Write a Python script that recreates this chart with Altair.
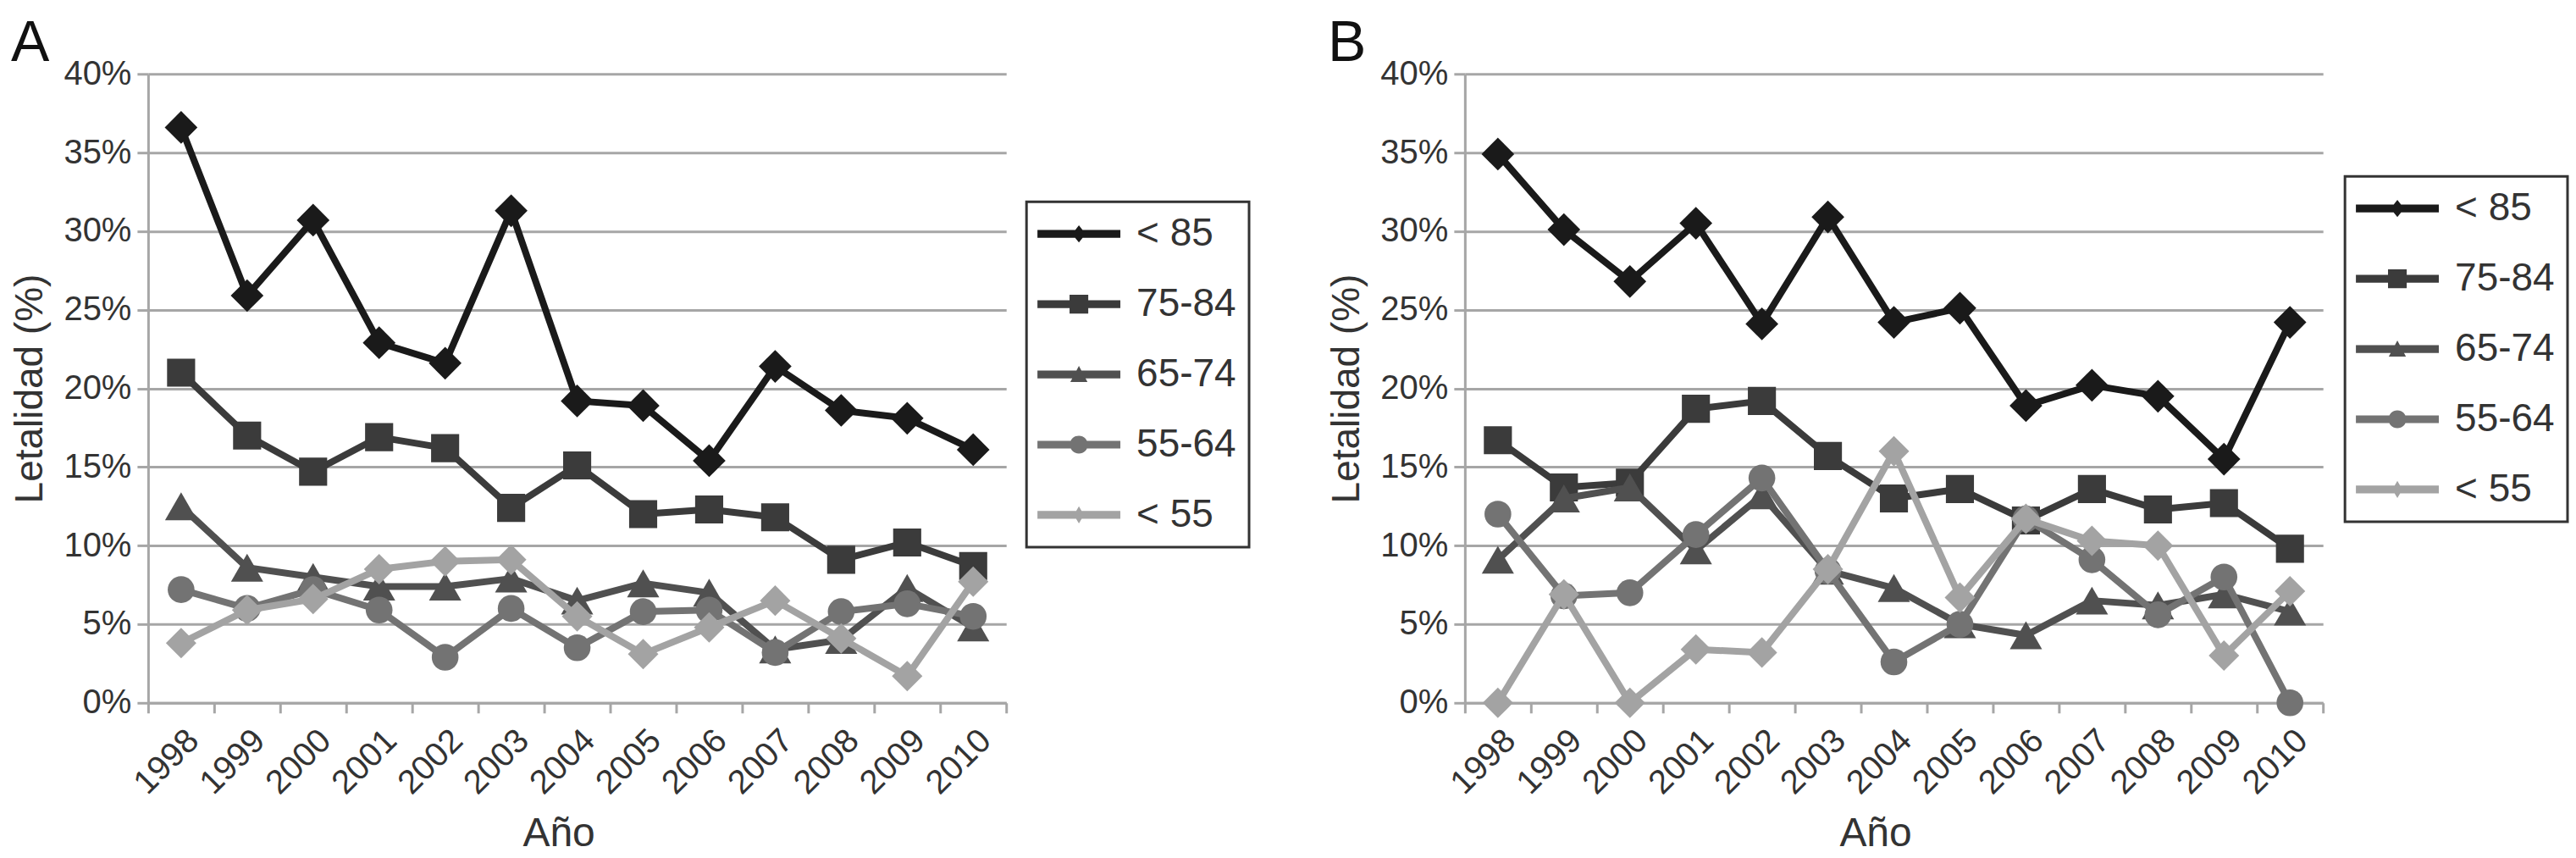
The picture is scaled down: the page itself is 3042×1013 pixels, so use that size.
import altair as alt
import pandas as pd

FONT = "Liberation Sans"

years = ["1998", "1999", "2000", "2001", "2002", "2003", "2004",
         "2005", "2006", "2007", "2008", "2009", "2010"]
series = ["< 85", "75-84", "65-74", "55-64", "< 55"]

# Panel A values (%)
a_lt85 = [36.6, 25.9, 30.7, 22.9, 21.6, 31.3, 19.2, 18.9, 15.4, 21.4, 18.6, 18.1, 16.1]
a_7584 = [21.0, 17.0, 14.7, 16.9, 16.2, 12.4, 15.1, 12.0, 12.3, 11.8, 9.1, 10.2, 8.7]
a_6574 = [12.5, 8.6, 8.0, 7.4, 7.4, 7.9, 6.5, 7.6, 7.0, 3.4, 4.0, 7.3, 4.8]
a_5564 = [7.2, 6.0, 7.2, 5.9, 2.9, 6.0, 3.5, 5.8, 5.9, 3.2, 5.8, 6.3, 5.5]
a_lt55 = [3.8, 5.9, 6.6, 8.5, 9.0, 9.1, 5.5, 3.1, 4.8, 6.5, 4.1, 1.7, 7.7]

# Panel B values (%)
b_lt85 = [34.9, 30.1, 26.8, 30.5, 24.1, 30.9, 24.2, 25.1, 18.9, 20.2, 19.5, 15.5, 24.2]
b_7584 = [16.7, 13.7, 14.0, 18.7, 19.2, 15.7, 13.0, 13.6, 11.6, 13.6, 12.3, 12.7, 9.8]
b_6574 = [9.1, 13.0, 13.7, 9.7, 13.2, 8.4, 7.3, 5.0, 4.3, 6.5, 6.2, 6.9, 5.8]
b_5564 = [12.0, 6.8, 7.0, 10.7, 14.3, 8.4, 2.6, 5.0, 11.7, 9.1, 5.6, 8.0, 0.0]
b_lt55 = [0.0, 6.9, 0.0, 3.4, 3.2, 8.5, 16.0, 6.7, 11.7, 10.3, 10.0, 3.0, 7.1]

# styling
colors = ["#1a1a1a", "#3b3b3b", "#505050", "#737373", "#a3a3a3"]
shapes = ["diamond", "square", "triangle-up", "circle", "diamond"]
sizes = [1500, 1100, 1450, 1000, 1300]

# legend symbols: a line sample with the marker in its middle (unit = 23 px)
LINE = "M-1.09,-0.2L3.17,-0.2L3.17,0.2L-1.09,0.2Z"
legend_paths = [
    LINE + "M1.04,-0.44L1.39,0L1.04,0.44L0.69,0Z",
    LINE + "M0.56,-0.48L1.52,-0.48L1.52,0.48L0.56,0.48Z",
    LINE + "M1.04,-0.44L1.48,0.39L0.6,0.39Z",
    LINE + "M0.58,0A0.46,0.46 0 0,1 1.5,0A0.46,0.46 0 0,1 0.58,0Z",
    LINE + "M1.04,-0.44L1.3,0L1.04,0.44L0.78,0Z",
]


def make_df(cols):
    rows = []
    for s, vals in zip(series, cols):
        for yr, v in zip(years, vals):
            rows.append({"year": yr, "series": s, "value": v})
    return pd.DataFrame(rows)


df_a = make_df([a_lt85, a_7584, a_6574, a_5564, a_lt55])
df_b = make_df([b_lt85, b_7584, b_6574, b_5564, b_lt55])

GRID = "#a6a6a6"
TXT = "#333333"


def panel(df, letter, lx, ly):
    x = alt.X(
        "year:O",
        scale=alt.Scale(type="band", paddingInner=0, paddingOuter=0),
        axis=alt.Axis(
            title="Año", labelAngle=-45, tickBand="extent", tickSize=12,
            tickWidth=3, tickColor=GRID, domainColor=GRID, domainWidth=3,
            labelFontSize=40, labelFont=FONT, labelColor=TXT, labelPadding=12,
            titleFontSize=48, titleFont=FONT, titleFontWeight="normal",
            titleColor=TXT, titlePadding=16, titleX=485, titleAlign="center",
            grid=False,
        ),
    )
    y = alt.Y(
        "value:Q",
        scale=alt.Scale(domain=[0, 40], nice=False),
        axis=alt.Axis(
            values=[0, 5, 10, 15, 20, 25, 30, 35, 40],
            labelExpr="datum.value + '%'",
            title="Letalidad (%)", grid=True, gridColor=GRID, gridWidth=3,
            domainColor=GRID, domainWidth=3, tickColor=GRID, tickWidth=3,
            tickSize=13, labelFontSize=40, labelFont=FONT, labelColor=TXT,
            labelPadding=7, titleFontSize=46, titleFont=FONT,
            titleFontWeight="normal", titleColor=TXT, titlePadding=15,
        ),
    )
    stroke_enc = alt.Stroke(
        "series:N", scale=alt.Scale(domain=series, range=colors), legend=None
    )
    fill_enc = alt.Fill(
        "series:N", scale=alt.Scale(domain=series, range=colors), legend=None
    )
    leg = alt.Legend(
        title=None, orient="none", legendX=lx, legendY=ly,
        symbolSize=2116, symbolOpacity=1, symbolStrokeWidth=0,
        labelFontSize=46, labelFont=FONT, labelColor=TXT, labelOffset=69,
        rowPadding=37, padding=15, strokeColor="#333333", fillColor="white",
    )
    legend_layer = (
        alt.Chart(df)
        .transform_filter("datum.value < -100")
        .mark_point(filled=True)
        .encode(
            x=x, y=y,
            color=alt.Color("series:N", scale=alt.Scale(domain=series, range=colors), legend=leg),
            shape=alt.Shape("series:N", scale=alt.Scale(domain=series, range=legend_paths), legend=leg),
        )
    )
    layers = [legend_layer]
    for s, sh, sz in zip(series, shapes, sizes):
        base = alt.Chart(df).transform_filter(alt.datum.series == s)
        layers.append(
            base.mark_line(strokeWidth=8, strokeJoin="round", strokeCap="round")
            .encode(x=x, y=y, stroke=stroke_enc)
        )
        layers.append(
            base.mark_point(filled=True, shape=sh, size=sz, opacity=1, strokeWidth=0)
            .encode(x=x, y=y, fill=fill_enc)
        )
    return alt.layer(*layers).properties(
        width=1014, height=743,
        title=alt.TitleParams(
            text=letter, anchor="start", fontSize=68, font=FONT,
            fontWeight="normal", color="#111111", offset=-19, frame="bounds",
        ),
    )


chart_a = panel(df_a, "A", 1038, 151)
chart_b = panel(df_b, "B", 1040, 121)

chart = (
    alt.hconcat(chart_a, chart_b, spacing=90)
    .resolve_scale(color="independent", shape="independent",
                   stroke="independent", fill="independent")
    .resolve_legend(color="independent", shape="independent")
    .configure_view(stroke=None)
    .configure_legend(strokeWidth=3)
    .properties(padding={"left": 4, "top": 10, "right": 0, "bottom": 0})
)

chart.save("out.html", embed_options={"renderer": "svg", "actions": False})
